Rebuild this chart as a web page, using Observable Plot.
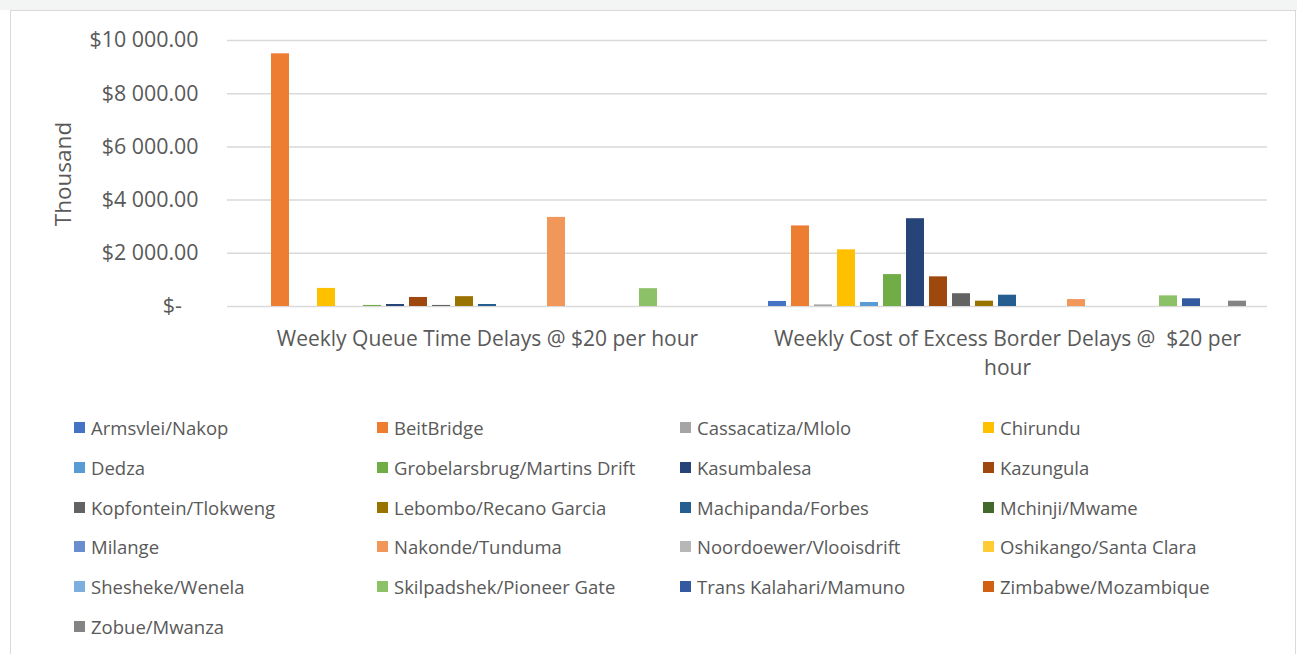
<!DOCTYPE html>
<html>
<head>
<meta charset="utf-8">
<script src="https://cdn.jsdelivr.net/npm/d3@7"></script>
<script src="https://cdn.jsdelivr.net/npm/@observablehq/plot@0.6"></script>
<style>
  html, body { margin: 0; padding: 0; background: #fff; }
  body { width: 1297px; height: 654px; position: relative; overflow: hidden; font-family: "Open Sans", sans-serif; }
  #topstrip { position: absolute; left: 0; top: 0; width: 1297px; height: 10px; background: #f3f4f4; }
  #frame { position: absolute; left: 10px; top: 10px; width: 1284px; height: 700px; border: 1.5px solid #d9d9d9; background: #fff; }
  #chart { position: absolute; left: 0; top: 0; }
  #ytitle { position: absolute; left: 62px; top: 174px; transform: translate(-50%, -50%) rotate(-90deg); font-size: 22.5px; color: #595959; white-space: nowrap; }
  .leg { position: absolute; display: flex; align-items: center; font-size: 18.5px; color: #595959; white-space: nowrap; }
  .sw { width: 11px; height: 11px; margin-right: 6px; flex: none; }
</style>
</head>
<body>
<div id="topstrip"></div>
<div id="frame"></div>
<div id="chart"></div>
<div id="ytitle">Thousand</div>
<div id="legend"></div>
<script>
const categories = [
  "Weekly Queue Time Delays @ $20 per hour",
  "Weekly Cost of Excess Border Delays @  $20 per hour"
];
const categoryLines = [
  "Weekly Queue Time Delays @ $20 per hour",
  "Weekly Cost of Excess Border Delays @\u00a0\u00a0$20 per\nhour"
];
const borders = [
  "Armsvlei/Nakop", "BeitBridge", "Cassacatiza/Mlolo", "Chirundu",
  "Dedza", "Grobelarsbrug/Martins Drift", "Kasumbalesa", "Kazungula",
  "Kopfontein/Tlokweng", "Lebombo/Recano Garcia", "Machipanda/Forbes", "Mchinji/Mwame",
  "Milange", "Nakonde/Tunduma", "Noordoewer/Vlooisdrift", "Oshikango/Santa Clara",
  "Shesheke/Wenela", "Skilpadshek/Pioneer Gate", "Trans Kalahari/Mamuno", "Zimbabwe/Mozambique",
  "Zobue/Mwanza"
];
// values in thousand $
const queueValues  = [0, 9500, 0, 680, 0, 40, 75, 340, 40, 370, 75, 0, 0, 3350, 0, 0, 0, 670, 0, 0, 0];
const excessValues = [190, 3030, 60, 2130, 150, 1200, 3300, 1115, 480, 200, 425, 0, 0, 260, 0, 0, 0, 400, 290, 0, 200];
const colors = [
  "#4472C4", "#ED7D31", "#A5A5A5", "#FFC000", "#5B9BD5", "#70AD47", "#264478", "#9E480E",
  "#636363", "#997300", "#255E91", "#43682B", "#698ED0", "#F1975A", "#B7B7B7", "#FFCD33",
  "#7CAFDD", "#8CC168", "#335AA1", "#D26012", "#848484"
];
const yTicks = [0, 2000, 4000, 6000, 8000, 10000];

const data = [];
borders.forEach((b, i) => {
  data.push({group: categories[0], border: b, value: queueValues[i]});
  data.push({group: categories[1], border: b, value: excessValues[i]});
});

const fmt = v => v === 0 ? "$-\u00a0\u00a0\u00a0" : "$" + d3.format(",.2f")(v).replace(/,/g, " ");
const labelMap = new Map(categories.map((c, i) => [c, categoryLines[i]]));

const chart = Plot.plot({
  width: 1297,
  height: 390,
  marginLeft: 227,
  marginRight: 30,
  marginTop: 40,
  marginBottom: 84,
  style: {fontFamily: "Open Sans, sans-serif", color: "#595959", background: "transparent", overflow: "visible"},
  fx: {domain: categories, padding: 0, label: null},
  x: {domain: borders, paddingInner: 0.22, paddingOuter: 0.87, axis: null},
  y: {domain: [0, 10000], label: null},
  color: {domain: borders, range: colors},
  marks: [
    Plot.gridY(yTicks, {stroke: "#d9d9d9", strokeOpacity: 1, strokeWidth: 1.5}),
    Plot.barY(data, {fx: "group", x: "border", y: "value", fill: "border"}),
    Plot.axisY(yTicks, {tickSize: 0, tickPadding: 29, tickFormat: fmt, fontSize: 21.4, fill: "#595959", label: null}),
    Plot.axisFx({anchor: "bottom", tickSize: 0, tickPadding: 19, tickFormat: d => labelMap.get(d), fontSize: 21, lineHeight: 1.38, fill: "#595959", label: null})
  ]
});
document.getElementById("chart").appendChild(chart);

// legend
const legend = document.getElementById("legend");
const colX = [74, 377, 680, 983];
const rowY = [427, 467, 507, 546, 586, 626];
borders.forEach((b, i) => {
  const c = i % 4, r = Math.floor(i / 4);
  const item = document.createElement("div");
  item.className = "leg";
  item.style.left = colX[c] + "px";
  item.style.top = (rowY[r] - 13) + "px";
  item.style.height = "26px";
  const sw = document.createElement("span");
  sw.className = "sw";
  sw.style.background = colors[i];
  const t = document.createElement("span");
  t.textContent = b;
  item.appendChild(sw);
  item.appendChild(t);
  legend.appendChild(item);
});
</script>
</body>
</html>
